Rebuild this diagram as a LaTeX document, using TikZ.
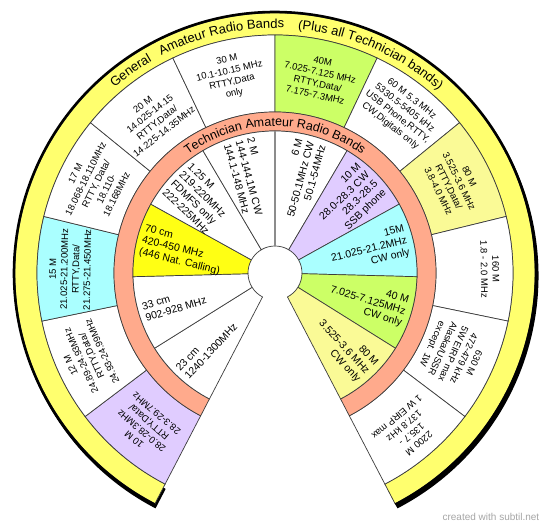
\documentclass[tikz,border=0pt]{standalone}
\usepackage{fontspec}
\setmainfont{Liberation Sans}
\usetikzlibrary{decorations.text}
\definecolor{bandyellow}{RGB}{255,255,110}
\definecolor{salmonring}{RGB}{255,170,140}
\definecolor{lgreen}{RGB}{204,255,102}
\definecolor{lcyan}{RGB}{170,255,255}
\definecolor{lpurple}{RGB}{224,204,255}
\definecolor{lyellow}{RGB}{250,250,150}
\definecolor{byellow}{RGB}{255,255,20}
\definecolor{edgecol}{RGB}{60,60,60}
\newcommand\annsec[5]{\path[#5] (#1:#3) arc[start angle=#1,end angle=#2,radius=#3] -- (#2:#4) arc[start angle=#2,end angle=#1,radius=#4] -- cycle;}
\begin{document}
\begin{tikzpicture}[x=1pt,y=1pt,
  cell/.style={draw=edgecol,line width=0.7pt},
  gtext/.style={font=\fontsize{9.5}{11.5}\selectfont, align=center, inner sep=0pt},
  ttextL/.style={font=\fontsize{10.5}{12}\selectfont, align=left, anchor=west, inner sep=0pt},
  ttextR/.style={font=\fontsize{10.5}{12}\selectfont, align=right, anchor=east, inner sep=0pt}]
\useasboundingbox (-275,-256) rectangle (275,273);
\fill[white] (-275,-256) rectangle (275,273);
% shadow
\annsec{-62.5}{242.5}{262pt}{240pt}{fill=black, shift={(1.5pt,-3pt)}}
% yellow band
\annsec{-62.5}{242.5}{260pt}{238pt}{fill=bandyellow, cell}
% general cells
\annsec{242.5}{217.0833}{238pt}{161pt}{fill=lpurple, cell}
\annsec{217.0833}{191.6667}{238pt}{161pt}{fill=white, cell}
\annsec{191.6667}{166.25}{238pt}{161pt}{fill=lcyan, cell}
\annsec{166.25}{140.8333}{238pt}{161pt}{fill=white, cell}
\annsec{140.8333}{115.4167}{238pt}{161pt}{fill=white, cell}
\annsec{115.4167}{90}{238pt}{161pt}{fill=white, cell}
\annsec{90}{64.5833}{238pt}{161pt}{fill=lgreen, cell}
\annsec{64.5833}{39.1667}{238pt}{161pt}{fill=white, cell}
\annsec{39.1667}{13.75}{238pt}{161pt}{fill=lyellow, cell}
\annsec{13.75}{-11.6667}{238pt}{161pt}{fill=white, cell}
\annsec{-11.6667}{-37.0833}{238pt}{161pt}{fill=white, cell}
\annsec{-37.0833}{-62.5}{238pt}{161pt}{fill=white, cell}
% salmon ring
\annsec{-62.5}{242.5}{161pt}{142pt}{fill=salmonring, cell}
% technician cells
\annsec{242.5}{212}{142pt}{27pt}{fill=white, cell}
\annsec{212}{181.5}{142pt}{27pt}{fill=white, cell}
\annsec{181.5}{151}{142pt}{27pt}{fill=byellow, cell}
\annsec{151}{120.5}{142pt}{27pt}{fill=white, cell}
\annsec{120.5}{90}{142pt}{27pt}{fill=white, cell}
\annsec{90}{59.5}{142pt}{27pt}{fill=white, cell}
\annsec{59.5}{29}{142pt}{27pt}{fill=lpurple, cell}
\annsec{29}{-1.5}{142pt}{27pt}{fill=lcyan, cell}
\annsec{-1.5}{-32}{142pt}{27pt}{fill=lgreen, cell}
\annsec{-32}{-62.5}{142pt}{27pt}{fill=lyellow, cell}
\draw[gray!90, line width=1.8pt] (90:27pt) -- (90:142pt);
% outer rim
\draw[line width=2.5pt] (-62.5:261pt) arc[start angle=-62.5,end angle=242.5,radius=261pt];
% ring titles
\path[decorate, decoration={text along path, text align=center,
  text={|\fontsize{13}{13}\selectfont|General}}]
  (140:245pt) arc[start angle=140,end angle=111,radius=245pt];
\path[decorate, decoration={text along path, text align=center,
  text={|\fontsize{13}{13}\selectfont|Amateur Radio Bands}}]
  (122:245pt) arc[start angle=122,end angle=83.5,radius=245pt];
\path[decorate, decoration={text along path, text align=center,
  text={|\fontsize{13}{13}\selectfont|(Plus all Technician bands)}}]
  (90:245pt) arc[start angle=90,end angle=42.8,radius=245pt];
\path[decorate, decoration={text along path, text align=center,
  text={|\fontsize{12.5}{12.5}\selectfont|Technician Amateur Radio Bands}}]
  (145:147pt) arc[start angle=145,end angle=35,radius=147pt];
% general cell texts
\node[gtext, rotate=139.79] (g10) at (229.79:201pt) {10 M\\28.0-28.3MHz\\RTTY,Data/\\28.3-29.7MHz};
\node[gtext, rotate=114.38] (g12) at (204.38:207pt) {12 M\\24.89-24.93MHz\\RTTY,Data/\\24.93-24.99MHz};
\node[gtext, rotate=88.96] (g15) at (178.96:205pt) {15 M\\21.025-21.200MHz\\RTTY,Data/\\21.275-21.450MHz};
\node[gtext, rotate=63.54] (g17) at (153.54:200pt) {17 M\\18.068-18.110MHz\\RTTY, Data/\\18.110-\\18.168MHz};
\node[gtext, rotate=38.13] (g20) at (128.13:197pt) {20 M\\14.025-14.15\\RTTY,Data/\\14.225-14.35MHz};
\node[gtext, rotate=12.71] (g30) at (102.71:201pt) {30 M\\10.1-10.15 MHz\\RTTY,Data\\only};
\node[gtext, rotate=-12.71] (g40) at (77.29:200pt) {40M\\7.025-7.125 MHz\\RTTY,Data/\\7.175-7.3MHz};
\node[gtext, rotate=-38.125] (g60) at (51.875:204pt) {60 M 5.3 MHz\\5330.5-5405 kHz\\USB Phone,RTTY,\\CW,Digitals only};
\node[gtext, rotate=-63.54] (g80) at (26.46:200pt) {80 M\\3.525-3.6 MHz\\RTTY,Data/\\3.8-4.0 MHz};
\node[gtext, rotate=-88.96] (g160) at (1.04:215pt) {160 M\\1.8 - 2.0 MHz};
\node[gtext, rotate=-114.375] (g630) at (-24.375:195pt) {630 M\\472-479 kHz\\5W EIRP max\\Alaska/USSR\\except. 1W};
\node[gtext, rotate=-139.79] (g2200) at (-49.79:206pt) {2200 M\\135.7 -\\137.8 kHz\\1 W EIRP max};
% technician cell texts
\node[ttextL, rotate=47.25] (t23) at (227.25:137pt) {23 cm\\1240-1300MHz};
\node[ttextL, rotate=16.75] (t33) at (196.75:137pt) {33 cm\\902-928 MHz};
\node[ttextL, rotate=-13.75] (t70) at (166.25:137pt) {70 cm\\420-450 MHz\\(446 Nat. Calling)};
\node[ttextL, rotate=-44.25] (t125) at (135.75:137pt) {1.25 M\\219-220MHz\\FDMFS only\\222-225MHz};
\node[ttextL, rotate=-74.75] (t2) at (105.25:137pt) {2 M\\144-144.1M CW\\144.1-148 MHz};
\node[ttextR, rotate=74.75] (t6) at (74.75:136pt) {6 M\\50-50.1MHz CW\\50.1-54MHz};
\node[ttextR, rotate=44.25] (t10) at (44.25:136pt) {10 M\\28.0-28.3 CW\\28.3-28.5\\SSB phone};
\node[ttextR, rotate=13.75] (t15) at (13.75:136pt) {15M\\21.025-21.2MHz\\CW only};
\node[ttextR, rotate=-16.75] (t40) at (-16.75:136pt) {40 M\\7.025-7.125MHz\\CW only};
\node[ttextR, rotate=-47.25] (t80) at (-47.25:136pt) {80 M\\3.525-3.6 MHz\\CW only};
% credit
\node[text=black!35, font=\fontsize{10}{12}\selectfont, anchor=east, inner sep=0pt] (credit) at (264.5,-243.7) {created with subtil.net};
\end{tikzpicture}
\end{document}
